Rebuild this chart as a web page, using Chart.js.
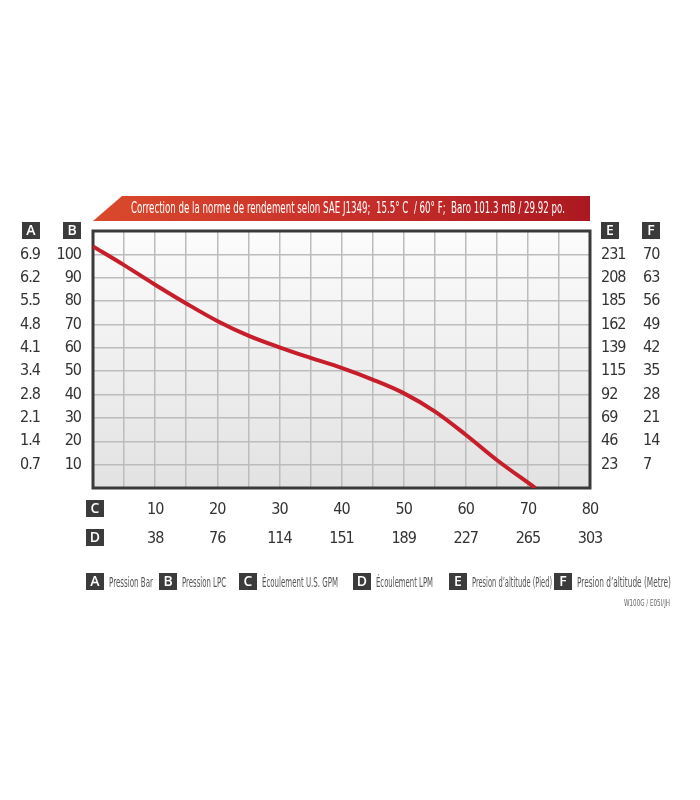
<!DOCTYPE html>
<html>
<head>
<meta charset="utf-8">
<title>Courbe de rendement</title>
<script src="https://cdn.jsdelivr.net/npm/chart.js@4.4.1/dist/chart.umd.min.js"></script>
<style>
    html, body { margin: 0; padding: 0; background: #fff; }
    #wrap { position: relative; width: 700px; height: 800px; }
</style>
</head>
<body>
<div id="wrap"><canvas id="pump-chart"></canvas></div>
<script>
// Chart data.
const flowGpm = [0, 5, 10, 15, 20, 25, 30, 35, 40, 45, 50, 55, 60, 65, 71.2];
const pressurePsi = [103.4, 95.4, 87.0, 79.0, 71.5, 65.2, 60.2, 55.7, 51.4, 46.4, 40.6, 32.8, 22.8, 12.0, 0];

// Tick labels (one per 10 PSI / 10 GPM).
const psiTicks = ['10', '20', '30', '40', '50', '60', '70', '80', '90', '100'];
const barTicks = ['0.7', '1.4', '2.1', '2.8', '3.4', '4.1', '4.8', '5.5', '6.2', '6.9'];
const altFtTicks = ['23', '46', '69', '92', '115', '139', '162', '185', '208', '231'];
const altMTicks = ['7', '14', '21', '28', '35', '42', '49', '56', '63', '70'];
const gpmTicks = ['10', '20', '30', '40', '50', '60', '70', '80'];
const lpmTicks = ['38', '76', '114', '151', '189', '227', '265', '303'];

// Legend and banner texts.
const axisKeys = ['A', 'B', 'C', 'D', 'E', 'F'];
const axisNames = ['Pression Bar', 'Pression LPC', 'Écoulement U.S. GPM', 'Écoulement LPM', 'Presion d\u2019altitude (Pied)', 'Presion d\u2019altitude (Metre)'];
const bannerText = 'Correction de la norme de rendement selon SAE J1349;  15.5° C  / 60° F;  Baro 101.3 mB / 29.92 po.';
const codeText = 'W100G / E05I/JH';

const NARROW = '"Liberation Sans Narrow", "DejaVu Sans Condensed", "Roboto", sans-serif';
const BOX_FONT = '600 14px "Open Sans", "DejaVu Sans", sans-serif';
const darkBox = '#3b3b3b';
const curveRed = '#c61f2b';

// Picks a tick label from a list of 10-unit steps.
function stepLabel(list) {
    return value => {
        const i = Math.round(value / 10) - 1;
        return (value % 10 === 0 && i >= 0 && i < list.length) ? list[i] : '';
    };
}

// Fixed size for an axis box.
function fixWidth(w) {
    return scale => { scale.width = w; };
}
function fixHeight(h) {
    return scale => { scale.height = h; };
}

function tickFont() {
    return { family: NARROW, size: 16 };
}

// Label-only axis (no grid, no tick marks).
const noGrid = { display: false, drawTicks: false };

// Small dark letter box.
function letterBox(ctx, letter, x, y) {
    ctx.fillStyle = darkBox;
    ctx.fillRect(x, y, 18, 17);
    ctx.fillStyle = '#fff';
    ctx.font = BOX_FONT;
    ctx.textAlign = 'center';
    ctx.textBaseline = 'middle';
    ctx.fillText(letter, x + 9, y + 9);
}

// Decoration plugin: banner, plot background, frame, header boxes, legend.
const decor = {
    id: 'decor',
    beforeDraw(chart) {
        const ctx = chart.ctx;
        const area = chart.chartArea;
        ctx.save();
        ctx.letterSpacing = '0px';

        // plot background
        const bg = ctx.createLinearGradient(0, area.top, 0, area.bottom);
        bg.addColorStop(0, '#fcfcfc');
        bg.addColorStop(1, '#e2e2e2');
        ctx.fillStyle = bg;
        ctx.fillRect(area.left, area.top, area.right - area.left, area.bottom - area.top);

        // banner
        const top = 196, bottom = 221;
        const grad = ctx.createLinearGradient(area.left, 0, area.right, 0);
        grad.addColorStop(0, '#da4a2c');
        grad.addColorStop(0.5, '#c9302a');
        grad.addColorStop(1, '#ab1920');
        ctx.fillStyle = grad;
        ctx.beginPath();
        ctx.moveTo(area.left + 29, top);
        ctx.lineTo(area.right, top);
        ctx.lineTo(area.right, bottom);
        ctx.lineTo(area.left, bottom);
        ctx.closePath();
        ctx.fill();

        ctx.fillStyle = '#fff';
        ctx.font = '15px ' + NARROW;
        ctx.textAlign = 'left';
        ctx.textBaseline = 'middle';
        ctx.fillText(bannerText, 131, 209, 434);
        ctx.restore();

        // slightly tighter tick labels (condensed look)
        ctx.letterSpacing = '-1px';
    },
    beforeDatasetsDraw(chart) {
        const ctx = chart.ctx;
        const area = chart.chartArea;
        ctx.save();
        ctx.strokeStyle = '#3a3a3a';
        ctx.lineWidth = 3;
        ctx.strokeRect(area.left, area.top, area.right - area.left, area.bottom - area.top);
        ctx.restore();
    },
    afterDraw(chart) {
        const ctx = chart.ctx;
        ctx.save();
        ctx.letterSpacing = '0px';

        // column / row headers
        letterBox(ctx, 'A', 22, 222);
        letterBox(ctx, 'B', 63, 222);
        letterBox(ctx, 'E', 601, 222);
        letterBox(ctx, 'F', 642, 222);
        letterBox(ctx, 'C', 86, 500);
        letterBox(ctx, 'D', 86, 529);

        // legend row
        const boxX = [86, 159, 239, 353, 449, 554];
        const textW = [44, 44, 76, 57, 80, 94];
        axisKeys.forEach((key, i) => {
            letterBox(ctx, key, boxX[i], 573);
            ctx.fillStyle = '#555';
            ctx.font = '14px ' + NARROW;
            ctx.textAlign = 'left';
            ctx.textBaseline = 'middle';
            ctx.fillText(axisNames[i], boxX[i] + 23, 583, textW[i]);
        });

        ctx.fillStyle = '#666';
        ctx.font = '9px ' + NARROW;
        ctx.textAlign = 'right';
        ctx.fillText(codeText, 670, 604, 46);
        ctx.restore();
    }
};

const points = flowGpm.map((x, i) => ({ x: x, y: pressurePsi[i] }));

new Chart(document.querySelector('#pump-chart'), {
    type: 'line',
    data: {
        datasets: [
            {
                label: 'Pression LPC',
                data: points,
                xAxisID: 'c',
                yAxisID: 'b',
                borderColor: curveRed,
                borderWidth: 4,
                pointRadius: 0,
                tension: 0.35,
                fill: false
            }
        ]
    },
    options: {
        responsive: true,
        maintainAspectRatio: false,
        animation: false,
        layout: { autoPadding: false, padding: { top: 231, bottom: 242, left: 0, right: 0 } },
        plugins: {
            legend: { display: false },
            tooltip: { enabled: false }
        },
        scales: {
            c: {
                type: 'linear', position: 'bottom', weight: 1,
                min: 0, max: 80,
                afterFit: fixHeight(35),
                ticks: { stepSize: 5, autoSkip: false, maxRotation: 0, padding: 12, color: '#333', font: tickFont(), callback: stepLabel(gpmTicks) },
                grid: { color: '#bcbcbc', lineWidth: 1.5, drawTicks: false },
                border: { display: false }
            },
            d: {
                type: 'linear', position: 'bottom', weight: 2,
                min: 0, max: 80,
                afterFit: fixHeight(35),
                ticks: { stepSize: 10, autoSkip: false, maxRotation: 0, padding: 6, color: '#333', font: tickFont(), callback: stepLabel(lpmTicks) },
                grid: noGrid,
                border: { display: false }
            },
            b: {
                type: 'linear', position: 'left', weight: 1,
                min: 0, max: 110,
                afterFit: fixWidth(40),
                ticks: { stepSize: 10, autoSkip: false, padding: 12, color: '#333', font: tickFont(), callback: stepLabel(psiTicks) },
                grid: { color: '#bcbcbc', lineWidth: 1.5, drawTicks: false },
                border: { display: false }
            },
            a: {
                type: 'linear', position: 'left', weight: 2,
                min: 0, max: 110,
                afterFit: fixWidth(53),
                ticks: { stepSize: 10, autoSkip: false, padding: 13, color: '#333', font: tickFont(), callback: stepLabel(barTicks) },
                grid: noGrid,
                border: { display: false }
            },
            e: {
                type: 'linear', position: 'right', weight: 1,
                min: 0, max: 110,
                afterFit: fixWidth(50),
                ticks: { stepSize: 10, autoSkip: false, padding: 11, color: '#333', font: tickFont(), callback: stepLabel(altFtTicks) },
                grid: noGrid,
                border: { display: false }
            },
            f: {
                type: 'linear', position: 'right', weight: 2,
                min: 0, max: 110,
                afterFit: fixWidth(60),
                ticks: { stepSize: 10, autoSkip: false, padding: 3, color: '#333', font: tickFont(), callback: stepLabel(altMTicks) },
                grid: noGrid,
                border: { display: false }
            }
        }
    },
    plugins: [decor]
});
</script>
</body>
</html>
